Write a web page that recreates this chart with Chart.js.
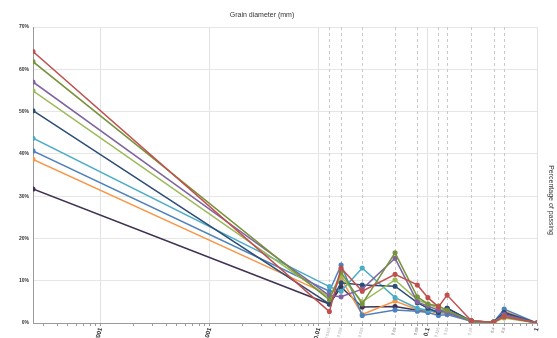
<!DOCTYPE html>
<html><head><meta charset="utf-8">
<script src="https://cdn.jsdelivr.net/npm/chart.js@4/dist/chart.umd.min.js"></script>
<style>html,body{margin:0;padding:0;background:#fff}canvas{display:block}</style>
</head><body>
<canvas id="c" width="557" height="338"></canvas>
<script>
// Grain diameters (mm) — x positions of the points
const diameters = [0.000024, 0.0125, 0.016, 0.025, 0.05, 0.08, 0.1, 0.125, 0.15, 0.25, 0.4, 0.5, 1];
// sieve sizes marked with dashed lines
const sieveSizes = [0.0125, 0.016, 0.025, 0.05, 0.08, 0.125, 0.15, 0.25, 0.4, 0.5];
// decade tick labels
const decadeTicks = [0.0001, 0.001, 0.01, 0.1, 1];
const yTicks = [0, 10, 20, 30, 40, 50, 60, 70];

// series values (%)
const s1 = [64.2, 2.7, 13.0, 7.5, 11.5, 9.0, 6.0, 3.8, 6.6, 0.5, 0.2, 1.5, 0];
const s2 = [61.8, 5.5, 12.0, 4.5, 16.6, 6.2, 4.5, 4.0, 3.0, 0.5, 0.2, 1.5, 0];
const s3 = [57.0, 6.5, 6.2, 8.0, 15.3, 5.0, 4.0, 3.0, 2.5, 0.4, 0.2, 2.0, 0];
const s4 = [54.9, 6.0, 11.0, 5.0, 10.2, 5.5, 4.5, 3.5, 2.8, 0.4, 0.1, 1.2, 0];
const s5 = [50.2, 4.5, 9.5, 9.0, 8.7, 4.8, 3.5, 2.5, 3.5, 0.5, 0.2, 2.5, 0];
const s6 = [43.7, 8.6, 7.5, 13.0, 6.0, 3.5, 3.0, 2.5, 2.5, 0.5, 0.1, 1.8, 0];
const s7 = [40.7, 7.5, 13.7, 1.8, 3.1, 2.8, 2.5, 1.8, 2.0, 0.4, 0.2, 3.3, 0];
const s8 = [38.7, 6.6, 10.5, 2.0, 5.2, 3.2, 3.0, 2.2, 2.5, 0.5, 0.2, 2.8, 0];
const s9 = [31.7, 4.5, 8.5, 3.8, 3.9, 3.0, 2.8, 2.8, 3.5, 0.3, 0.1, 2.2, 0];

const seriesList = [s1, s2, s3, s4, s5, s6, s7, s8, s9];
const colors = ['#C0504D', '#77933C', '#8064A2', '#9BBB59', '#2C4D75', '#4BACC6', '#4F81BD', '#F79646', '#403152'];

const minorTicks = [];
for (let e = -5; e <= -1; e++) for (let k = 2; k <= 9; k++) {
  const v = k * Math.pow(10, e);
  if (v >= 0.000024 && v <= 1) minorTicks.push(v);
}
const near = (a, b) => Math.abs(a - b) / b < 1e-6;
const isDecade = v => decadeTicks.some(d => near(v, d));
const isSieve = v => sieveSizes.some(d => near(v, d));

const datasets = seriesList.map((s, i) => ({
  data: s.map((y, j) => ({x: diameters[j], y})),
  borderColor: colors[i], backgroundColor: colors[i],
  pointBackgroundColor: colors[i], pointBorderColor: colors[i],
  borderWidth: 1.5, pointRadius: 1.8, tension: 0
}));

const deco = {
  id: 'deco',
  beforeDatasetsDraw(chart) {
    const {ctx, chartArea, scales} = chart;
    ctx.save();
    ctx.strokeStyle = '#c9c9c9'; ctx.lineWidth = 1; ctx.setLineDash([3, 3]);
    sieveSizes.forEach(v => {
      const x = Math.round(scales.x.getPixelForValue(v)) + 0.5;
      ctx.beginPath(); ctx.moveTo(x, chartArea.top); ctx.lineTo(x, chartArea.bottom); ctx.stroke();
    });
    ctx.restore();
  },
  afterDraw(chart) {
    const {ctx} = chart;
    ctx.save();
    ctx.fillStyle = '#333';
    ctx.font = '7px "Liberation Sans", Arial, sans-serif';
    ctx.textAlign = 'center'; ctx.textBaseline = 'middle';
    ctx.fillText('Grain diameter (mm)', 262, 15);
    ctx.translate(551, 200); ctx.rotate(Math.PI / 2);
    ctx.fillText('Percentage of passing', 0, 0);
    ctx.restore();
  }
};

new Chart(document.getElementById('c'), {
  type: 'line',
  data: {datasets},
  options: {
    responsive: false, animation: false, devicePixelRatio: 1,
    layout: {padding: {top: 27, right: 20, left: 0, bottom: 0}},
    plugins: {legend: {display: false}, tooltip: {enabled: false}, title: {display: false}},
    scales: {
      x: {
        type: 'logarithmic', min: 0.000024, max: 1,
        afterBuildTicks(s) {
          const all = [...decadeTicks, ...sieveSizes, ...minorTicks].filter(v => v >= 0.000024 && v <= 1).sort((a, b) => a - b);
          s.ticks = all.map(v => ({value: v}));
        },
        afterFit(s) { s.height = 15; },
        grid: {
          color: c => (c.tick && isDecade(c.tick.value)) ? '#e2e2e2' : 'rgba(0,0,0,0)',
          tickColor: '#9a9a9a', tickLength: 3, drawTicks: true
        },
        border: {color: '#9a9a9a'},
        ticks: {
          autoSkip: false, minRotation: 75, maxRotation: 75, padding: 1,
          callback(v) {
            if (isDecade(v) || isSieve(v)) return String(v);
            return '';
          },
          font: c => (c.tick && isDecade(c.tick.value)) ? {size: 6, weight: 'bold', family: '"Liberation Sans", Arial, sans-serif'} : {size: 4, family: '"Liberation Sans", Arial, sans-serif'},
          color: c => (c.tick && isDecade(c.tick.value)) ? '#222' : '#aaa'
        }
      },
      y: {
        min: 0, max: 70,
        afterBuildTicks(s) { s.ticks = yTicks.map(v => ({value: v})); },
        afterFit(s) { s.width = 33; },
        grid: {color: '#e6e6e6', drawTicks: false},
        border: {color: '#9a9a9a'},
        ticks: {
          padding: 4, callback: v => v + '%',
          font: {size: 5, weight: 'bold', family: '"Liberation Sans", Arial, sans-serif'}, color: '#333'
        }
      }
    }
  },
  plugins: [deco]
});
</script>
</body></html>
